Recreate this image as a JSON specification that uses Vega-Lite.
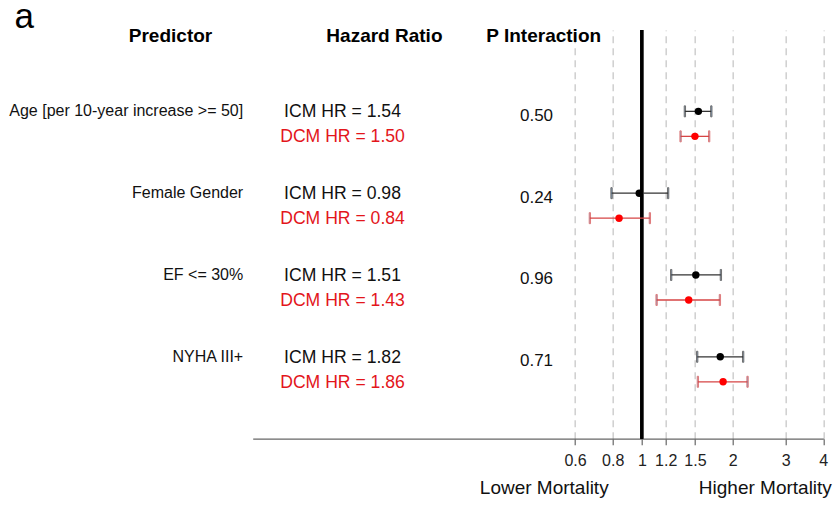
{
  "$schema": "https://vega.github.io/schema/vega-lite/v6.json",
  "autosize": {"type": "none"},
  "width": 570.6,
  "height": 408.7,
  "padding": {"left": 252.7, "top": 30, "right": 13.7, "bottom": 66.3},
  "background": "white",
  "title": {"text": "a", "anchor": "start", "frame": "group", "fontSize": 35, "fontWeight": "normal", "color": "#000", "dx": -238.2, "dy": 39.5, "baseline": "alphabetic", "offset": 3.3, "font": "Liberation Sans"},
  "config": {"view": {"stroke": null}, "font": "Liberation Sans", "text": {"font": "Liberation Sans"},
    "axisY": {"titleAngle": 0, "titleAlign": "center", "titleBaseline": "middle", "titleX": -82.7, "titleY": 5.5,
      "titleFontSize": 19, "titleFontWeight": "bold", "titleColor": "#000",
      "domain": false, "ticks": false, "grid": false, "labelAlign": "right", "labelBaseline": "middle", "labelPadding": 10, "labelOffset": -12.5,
      "labelFontSize": 16, "labelColor": "#111", "labelLimit": 400}},
  "datasets": {
    "rows": [
      {"predictor": "Age [per 10-year increase >= 50]", "group": "ICM", "hr": 1.54, "lo": 1.389, "hi": 1.70, "label": "ICM HR = 1.54"},
      {"predictor": "Age [per 10-year increase >= 50]", "group": "DCM", "hr": 1.50, "lo": 1.344, "hi": 1.672, "label": "DCM HR = 1.50"},
      {"predictor": "Female Gender", "group": "ICM", "hr": 0.98, "lo": 0.793, "hi": 1.222, "label": "ICM HR = 0.98"},
      {"predictor": "Female Gender", "group": "DCM", "hr": 0.84, "lo": 0.672, "hi": 1.063, "label": "DCM HR = 0.84"},
      {"predictor": "EF <= 30%", "group": "ICM", "hr": 1.51, "lo": 1.251, "hi": 1.829, "label": "ICM HR = 1.51"},
      {"predictor": "EF <= 30%", "group": "DCM", "hr": 1.43, "lo": 1.119, "hi": 1.815, "label": "DCM HR = 1.43"},
      {"predictor": "NYHA III+", "group": "ICM", "hr": 1.82, "lo": 1.526, "hi": 2.168, "label": "ICM HR = 1.82"},
      {"predictor": "NYHA III+", "group": "DCM", "hr": 1.86, "lo": 1.534, "hi": 2.242, "label": "DCM HR = 1.86"}
    ],
    "pvals": [
      {"predictor": "Age [per 10-year increase >= 50]", "p": "0.50"},
      {"predictor": "Female Gender", "p": "0.24"},
      {"predictor": "EF <= 30%", "p": "0.96"},
      {"predictor": "NYHA III+", "p": "0.71"}
    ]
  },
  "resolve": {"axis": {"x": "independent"}},
  "layer": [
    {
      "data": {"name": "rows"},
      "mark": {"type": "rule", "color": "#000", "strokeWidth": 2.5},
      "encoding": {
        "x": {
          "datum": 1, "type": "quantitative",
          "scale": {"type": "log", "domain": [0.0511, 4], "nice": false, "zero": false},
          "axis": {"orient": "bottom", "values": [0.6, 0.8, 1, 1.2, 1.5, 2, 3, 4], "format": "~g", "title": null,
            "grid": true, "gridDash": [7, 5], "gridColor": "#cfcfcf", "gridWidth": 1.5,
            "domainColor": "#666", "domainWidth": 1.2, "tickColor": "#666", "tickSize": 6, "tickWidth": 1.2,
            "labelFontSize": 16, "labelColor": "#222", "labelPadding": 8, "labelFlush": false, "labelOverlap": false, "labelBound": false}
        }
      }
    },
    {
      "data": {"name": "rows"},
      "mark": {"type": "rule", "strokeWidth": 1.3},
      "encoding": {
        "x": {"field": "lo", "type": "quantitative", "axis": null},
        "x2": {"field": "hi"},
        "y": {"field": "predictor", "type": "nominal", "title": "Predictor",
          "scale": {"domain": ["Age [per 10-year increase >= 50]", "Female Gender", "EF <= 30%", "NYHA III+"], "paddingInner": 0, "paddingOuter": 0.498, "align": 0.65},
          "axis": {"title": "Predictor", "titleAngle": 0, "titleAlign": "center", "titleBaseline": "middle", "titleX": -82.7, "titleY": 5.5,
            "titleFontSize": 19, "titleFontWeight": "bold", "titleColor": "#000"}},
        "yOffset": {"field": "group", "type": "nominal", "scale": {"domain": ["ICM", "DCM"], "paddingInner": 0, "paddingOuter": 0.636}},
        "stroke": {"field": "group", "type": "nominal", "scale": {"domain": ["ICM", "DCM"], "range": ["#333333", "#d64545"]}, "legend": null}
      }
    },
    {
      "data": {"name": "rows"},
      "transform": [{"fold": ["lo", "hi"], "as": ["end", "value"]}],
      "mark": {"type": "tick", "size": 11, "thickness": 1.3},
      "encoding": {
        "x": {"field": "value", "type": "quantitative", "axis": null},
        "y": {"field": "predictor", "type": "nominal", "title": "Predictor"},
        "yOffset": {"field": "group", "type": "nominal"},
        "stroke": {"field": "group", "type": "nominal", "legend": null}
      }
    },
    {
      "data": {"name": "rows"},
      "mark": {"type": "point", "filled": true, "shape": "circle", "size": 55, "opacity": 1},
      "encoding": {
        "x": {"field": "hr", "type": "quantitative", "axis": null},
        "y": {"field": "predictor", "type": "nominal", "title": "Predictor"},
        "yOffset": {"field": "group", "type": "nominal"},
        "color": {"field": "group", "type": "nominal", "scale": {"domain": ["ICM", "DCM"], "range": ["#000000", "#ff0000"]}, "legend": null}
      }
    },
    {
      "data": {"name": "rows"},
      "mark": {"type": "text", "fontSize": 17.6, "align": "center", "baseline": "middle", "dy": 1},
      "encoding": {
        "x": {"datum": 0.1015, "type": "quantitative",
          "axis": {"orient": "bottom", "values": [0.4723, 2.559], "labelExpr": "datum.value < 1 ? 'Lower Mortality' : 'Higher Mortality'",
            "title": null, "domain": false, "ticks": false, "grid": false, "labelFontSize": 19, "labelColor": "#111", "labelPadding": 40,
            "labelFlush": false, "labelOverlap": false, "labelBound": false}},
        "y": {"field": "predictor", "type": "nominal", "title": "Predictor"},
        "yOffset": {"field": "group", "type": "nominal"},
        "text": {"field": "label"},
        "fill": {"field": "group", "type": "nominal", "scale": {"domain": ["ICM", "DCM"], "range": ["#111111", "#e3161b"]}, "legend": null}
      }
    },
    {
      "data": {"name": "pvals"},
      "mark": {"type": "text", "fontSize": 17, "align": "center", "baseline": "middle", "dy": -8, "color": "#111"},
      "encoding": {
        "x": {"datum": 0.447, "type": "quantitative",
          "axis": {"orient": "top", "values": [0.1393, 0.4705], "labelExpr": "datum.value < 0.3 ? 'Hazard Ratio' : 'P Interaction'",
            "title": null, "domain": false, "ticks": false, "grid": false, "labelFontSize": 19, "labelFontWeight": "bold", "labelColor": "#000",
            "labelBaseline": "middle", "labelPadding": -5.5, "minExtent": 0, "maxExtent": 0, "labelFlush": false, "labelOverlap": false, "labelBound": false}},
        "y": {"field": "predictor", "type": "nominal", "title": "Predictor"},
        "text": {"field": "p"}
      }
    }
  ]
}
